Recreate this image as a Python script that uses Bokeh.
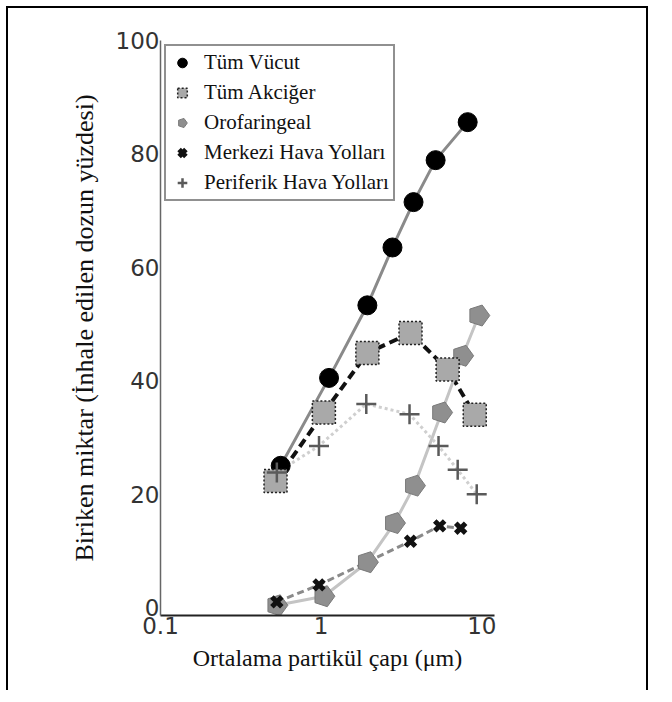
import numpy as np
from bokeh.plotting import figure
from bokeh.layouts import column
from bokeh.models import FixedTicker, Legend, LegendItem
from bokeh.embed import file_html
from bokeh.resources import INLINE

# ---- data ----
vucut_x = [0.56, 1.12, 1.94, 2.78, 3.76, 5.16, 8.17]
vucut_y = [25.0, 40.5, 53.3, 63.5, 71.5, 78.9, 85.6]

akciger_x = [0.52, 1.04, 1.94, 3.6, 6.13, 9.04]
akciger_y = [22.3, 34.4, 44.9, 48.4, 42.0, 34.0]

orofar_x = [0.53, 1.04, 1.94, 2.86, 3.81, 5.62, 7.6, 9.58]
orofar_y = [0.4, 2.0, 8.0, 14.9, 21.5, 34.4, 44.4, 51.5]

merkezi_x = [0.53, 0.97, 3.6, 5.47, 7.39]
merkezi_y = [1.0, 4.0, 11.7, 14.4, 14.0]

periferik_x = [0.53, 0.97, 1.91, 3.55, 5.38, 7.08, 9.3]
periferik_y = [23.8, 28.5, 35.9, 34.1, 28.5, 24.3, 20.0]

x_ticks = [0.1, 1, 10]
x_tick_labels = {0.1: "0.1", 1: "1", 10: "10"}
y_ticks = [0, 20, 40, 60, 80, 100]

names = ["Tüm Vücut", "Tüm Akciğer", "Orofaringeal", "Merkezi Hava Yolları", "Periferik Hava Yolları"]

W, H = 642, 684
p = figure(width=W, height=H, x_axis_type="log", x_range=(0.1, 12.0), y_range=(-1.4, 100),
           output_backend="svg", toolbar_location=None,
           min_border_left=152, min_border_right=156, min_border_top=32, min_border_bottom=77)
p.margin = (6, 0, 0, 6)
p.styles = {"border-left": "2px solid black", "border-right": "2px solid black",
            "border-top": "2px solid black"}
p.outline_line_color = None
p.grid.visible = False

# lines
p.line(vucut_x, vucut_y, line_color="#8a8a8a", line_width=3)
p.line(akciger_x, akciger_y, line_color="#111111", line_width=4, line_dash="9 5")
p.line(orofar_x, orofar_y, line_color="#c4c4c4", line_width=3)
p.line(merkezi_x, merkezi_y, line_color="#8a8a8a", line_width=3, line_dash="7 4")
p.line(periferik_x, periferik_y, line_color="#cfcfcf", line_width=3, line_dash="3 3")

# markers
r_oro = p.ngon(x=orofar_x, y=orofar_y, radius=11, radius_units="screen", n=5, angle=-np.pi / 2,
               fill_color="#8f8f8f", line_color="#7a7a7a", line_width=1)
r_vuc = p.scatter(vucut_x, vucut_y, marker="circle", size=19, fill_color="black", line_color="black")
r_akc = p.scatter(akciger_x, akciger_y, marker="square", size=23, fill_color="#a9a9a9",
                  line_color="#222222", line_width=1.5, line_dash="2 2")
r_mer = p.scatter(merkezi_x, merkezi_y, marker="x", size=14, line_color="#111111", line_width=5)
r_per = p.scatter(periferik_x, periferik_y, marker="cross", size=20, line_color="#5a5a5a", line_width=2.5)

legend = Legend(items=[LegendItem(label=names[0], renderers=[r_vuc]),
                       LegendItem(label=names[1], renderers=[r_akc]),
                       LegendItem(label=names[2], renderers=[r_oro]),
                       LegendItem(label=names[3], renderers=[r_mer]),
                       LegendItem(label=names[4], renderers=[r_per])],
                location="top_left")
legend.margin = 4
legend.padding = 4
legend.spacing = 5
legend.glyph_width = 24
legend.glyph_height = 25
legend.label_height = 25
legend.label_standoff = 10
legend.label_text_font = "Liberation Serif"
legend.label_text_font_size = "21px"
legend.label_text_color = "#111111"
legend.border_line_color = "#222222"
legend.border_line_width = 2.5
legend.background_fill_alpha = 1.0
p.add_layout(legend)

# axes
p.xaxis.ticker = FixedTicker(ticks=x_ticks, minor_ticks=[])
p.xaxis.major_label_overrides = x_tick_labels
p.yaxis.ticker = FixedTicker(ticks=y_ticks, minor_ticks=[])
for ax in (p.xaxis[0], p.yaxis[0]):
    ax.major_tick_out = 0
    ax.major_tick_in = 0
    ax.minor_tick_out = 0
    ax.minor_tick_in = 0
    ax.major_label_text_font = "DejaVu Sans"
    ax.major_label_text_font_size = "23px"
    ax.major_label_text_color = "#333333"
    ax.axis_label_text_font = "Liberation Serif"
    ax.axis_label_text_font_style = "normal"
    ax.axis_label_text_color = "#111111"
p.xaxis.axis_label_text_font_size = "24px"
p.yaxis.axis_label_text_font_size = "26px"
p.xaxis.axis_line_color = "#222222"
p.xaxis.axis_line_width = 2
p.yaxis.axis_line_color = "#666666"
p.yaxis.axis_line_width = 1.5
p.xaxis.major_label_standoff = 1
p.yaxis.major_label_standoff = 1
p.xaxis.axis_label = "Ortalama partikül çapı (μm)"
p.yaxis.axis_label = "Biriken miktar (İnhale edilen dozun yüzdesi)"
p.xaxis.axis_label_standoff = 8
p.yaxis.axis_label_standoff = 14

layout = column(p)
open("out.html", "w").write(file_html(layout, INLINE))
